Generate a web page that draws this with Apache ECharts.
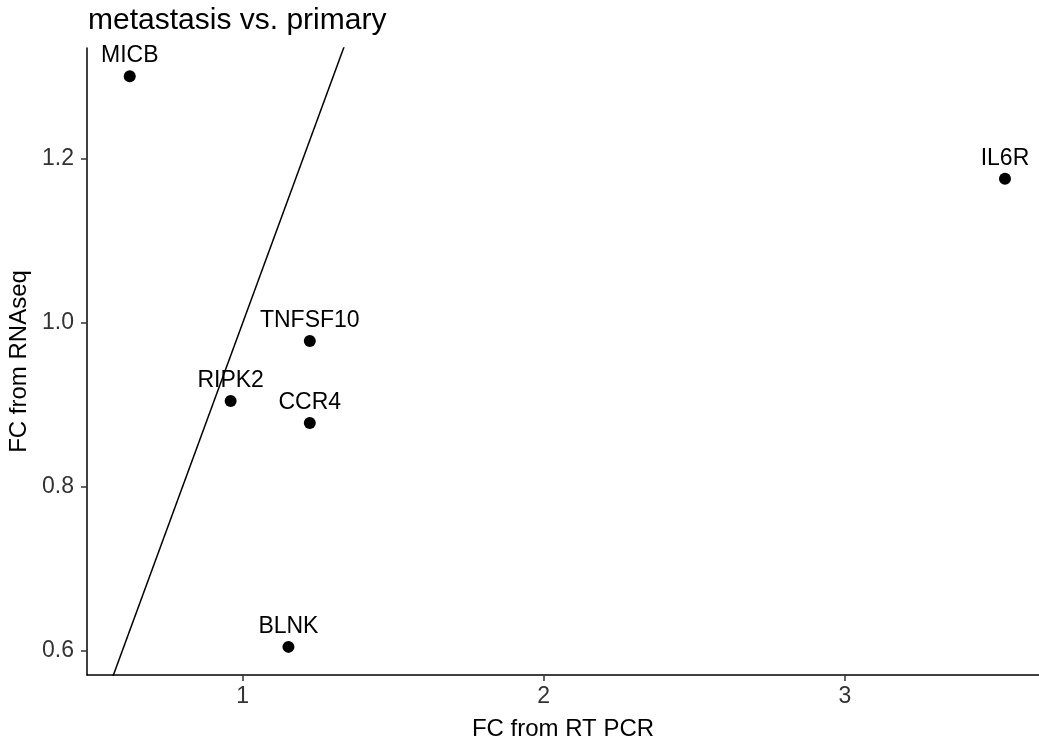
<!DOCTYPE html>
<html>
<head>
    <meta charset="UTF-8">
    <title>metastasis vs. primary</title>
    <script src="https://cdn.jsdelivr.net/npm/echarts/dist/echarts.min.js"></script>
    <style>
    body { margin: 0; background: #fff; }
    #chart { width: 1039px; height: 742px; }
  </style>
</head>
<body>
<div id="chart"></div>
<script>
    // 数据：基因名, RT PCR 的 FC, RNAseq 的 FC
    var genes   = ['MICB', 'IL6R', 'TNFSF10', 'RIPK2', 'CCR4', 'BLNK'];
    var fcPcr   = [0.625, 3.532, 1.223, 0.960, 1.223, 1.152];
    var fcRna   = [1.301, 1.176, 0.978, 0.905, 0.878, 0.605];

    // 参考线 y = slope * x + intercept
    var ablineSlope = [1];
    var ablineIntercept = [0];

    var xTicks = [1, 2, 3];
    var yTicks = [0.6, 0.8, 1.0, 1.2];

    var xMin = 0.483, xMax = 3.645;
    var yMin = 0.5707, yMax = 1.3354;

    var points = genes.map(function(g, i) {
      return { name: g, value: [fcPcr[i], fcRna[i]] };
    });
    var lineData = [xMin, xMax].map(function(x) {
      return [x, ablineSlope[0] * x + ablineIntercept[0]];
    });

    var font = 'Liberation Sans, Arial, sans-serif';
    var myChart = echarts.init(document.getElementById('chart'));
    var option = {
      animation: false,
      title: {
        text: 'metastasis vs. primary',
        left: 83,
        top: 1,
        textStyle: { fontFamily: font, fontSize: 30, fontWeight: 'normal', color: '#000' }
      },
      grid: { left: 87, right: 0, top: 48, bottom: 67, outerBoundsMode: 'none' },
      xAxis: {
        type: 'value',
        min: xMin,
        max: xMax,
        name: 'FC from RT PCR',
        nameLocation: 'middle',
        nameGap: 42,
        nameTextStyle: { fontFamily: font, fontSize: 24, color: '#000' },
        axisLine: { lineStyle: { color: '#000', width: 1.5 } },
        axisTick: { customValues: xTicks, length: 6, lineStyle: { color: '#333', width: 1.5 } },
        axisLabel: { customValues: xTicks, margin: 10, fontFamily: font, fontSize: 23, color: '#333' },
        splitLine: { show: false }
      },
      yAxis: {
        type: 'value',
        min: yMin,
        max: yMax,
        name: 'FC from RNAseq',
        nameLocation: 'middle',
        nameRotate: 90,
        nameGap: 54,
        nameTextStyle: { fontFamily: font, fontSize: 24, color: '#000' },
        axisLine: { show: true, lineStyle: { color: '#000', width: 1.5 } },
        axisTick: { show: true, customValues: yTicks, length: 6, lineStyle: { color: '#333', width: 1.5 } },
        axisLabel: {
          customValues: yTicks, margin: 13, fontFamily: font, fontSize: 23, color: '#333',
          formatter: function(v) { return v.toFixed(1); }
        },
        splitLine: { show: false }
      },
      series: [
        {
          type: 'line',
          data: lineData,
          showSymbol: false,
          clip: true,
          lineStyle: { color: '#000', width: 1.5 },
          silent: true
        },
        {
          type: 'scatter',
          data: points,
          symbolSize: 12,
          itemStyle: { color: '#000', opacity: 1 },
          label: {
            show: true,
            position: 'top',
            distance: 3,
            formatter: '{b}',
            fontFamily: font,
            fontSize: 23,
            color: '#000'
          }
        }
      ]
    };
    myChart.setOption(option);
  </script>
</body>
</html>
